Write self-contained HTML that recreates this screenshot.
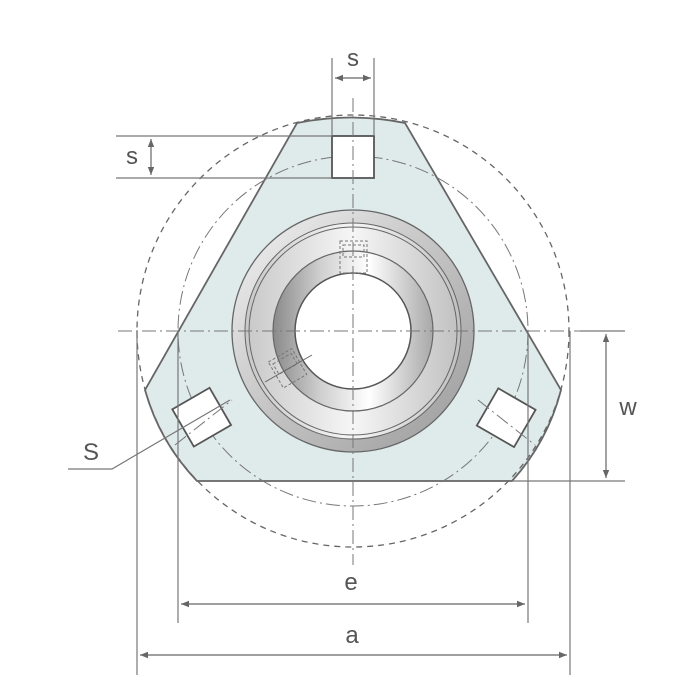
<!DOCTYPE html>
<html><head><meta charset="utf-8"><style>
html,body{margin:0;padding:0;background:#fff;}
svg{display:block;}
text{font-family:"Liberation Sans",sans-serif;fill:#555;font-size:24px;}
</style></head><body>
<svg width="700" height="700" viewBox="0 0 700 700" xmlns="http://www.w3.org/2000/svg">
<defs>
<linearGradient id="g1" x1="0" y1="0" x2="1" y2="1">
<stop offset="0" stop-color="#f4f4f4"/><stop offset="0.45" stop-color="#c8c8c8"/><stop offset="1" stop-color="#9a9a9a"/>
</linearGradient>
<linearGradient id="g2" x1="0" y1="0" x2="1" y2="0">
<stop offset="0" stop-color="#8a8a8a"/><stop offset="0.3" stop-color="#d0d0d0"/><stop offset="0.6" stop-color="#ffffff"/><stop offset="1" stop-color="#a8a8a8"/>
</linearGradient>
<linearGradient id="g3" x1="0" y1="0" x2="1" y2="0">
<stop offset="0" stop-color="#c8c8c8"/><stop offset="0.5" stop-color="#f6f6f6"/><stop offset="1" stop-color="#c0c0c0"/>
</linearGradient>
<marker id="ar" viewBox="0 0 10 10" refX="10" refY="5" markerWidth="10" markerHeight="8" orient="auto-start-reverse" markerUnits="userSpaceOnUse">
<path d="M0,1 L10,5 L0,9 z" fill="#666"/></marker>
</defs>
<!-- flange -->
<path d="M297,123 Q351,112 405,123 L561,390 A216,216 0 0 1 512,481 L197,481 A216,216 0 0 1 145,390 Z" fill="#dfeaea" stroke="#666" stroke-width="1.8"/>
<!-- circles -->
<circle cx="353" cy="331" r="216" fill="none" stroke="#666" stroke-width="1.3" stroke-dasharray="6,5"/>
<circle cx="353" cy="331" r="175" fill="none" stroke="#777" stroke-width="1" stroke-dasharray="14,4,2,4"/>
<!-- bearing -->
<circle cx="353" cy="331" r="121" fill="url(#g1)" stroke="#666" stroke-width="1.3"/>
<circle cx="353" cy="331" r="108" fill="url(#g3)" stroke="#666" stroke-width="1"/>
<circle cx="353" cy="331" r="104" fill="none" stroke="#666" stroke-width="1"/>
<circle cx="353" cy="331" r="80" fill="url(#g2)" stroke="#666" stroke-width="1.2"/>
<circle cx="353" cy="331" r="58" fill="#fff" stroke="#555" stroke-width="1.5"/>
<!-- dashed set screws -->
<g fill="none" stroke="#777" stroke-width="1" stroke-dasharray="3,2">
<rect x="340" y="241" width="27" height="32"/><rect x="343" y="245" width="21" height="12"/>
<g transform="rotate(-30 288 368)"><rect x="274" y="353" width="27" height="30"/><rect x="277" y="357" width="21" height="12"/></g>
</g>
<line x1="265" y1="382" x2="312" y2="355" stroke="#666" stroke-width="1"/>
<!-- holes -->
<g fill="#fff" stroke="#555" stroke-width="1.8">
<rect x="332" y="136" width="42" height="42"/>
<rect x="180" y="396" width="43" height="43" transform="rotate(-30 201 417)"/>
<rect x="485" y="396" width="43" height="43" transform="rotate(30 506 417)"/>
</g>
<!-- centerlines -->
<g stroke="#777" stroke-width="1" stroke-dasharray="14,4,2,4" fill="none">
<line x1="118" y1="331" x2="580" y2="331"/>
<line x1="353" y1="98" x2="353" y2="565"/>
<line x1="175" y1="445" x2="232" y2="400"/>
<line x1="478" y1="400" x2="535" y2="445"/>
</g>
<!-- dimension lines -->
<g stroke="#777" stroke-width="1.2" fill="none">
<line x1="332" y1="58" x2="332" y2="136"/><line x1="374" y1="58" x2="374" y2="136"/>
<line x1="116" y1="136" x2="332" y2="136"/><line x1="116" y1="178" x2="332" y2="178"/>
<line x1="580" y1="331" x2="625" y2="331"/><line x1="512" y1="481" x2="625" y2="481"/>
<line x1="178" y1="331" x2="178" y2="623"/><line x1="528" y1="331" x2="528" y2="623"/>
<line x1="137" y1="331" x2="137" y2="675"/><line x1="570" y1="331" x2="570" y2="675"/>
<polyline points="68,469 112,469 230,400"/>
</g>
<g stroke="#666" stroke-width="1.2" fill="none">
<line x1="335" y1="78" x2="371" y2="78" marker-start="url(#ar)" marker-end="url(#ar)"/>
<line x1="151" y1="139" x2="151" y2="175" marker-start="url(#ar)" marker-end="url(#ar)"/>
<line x1="606" y1="334" x2="606" y2="478" marker-start="url(#ar)" marker-end="url(#ar)"/>
<line x1="181" y1="604" x2="525" y2="604" marker-start="url(#ar)" marker-end="url(#ar)"/>
<line x1="140" y1="655" x2="567" y2="655" marker-start="url(#ar)" marker-end="url(#ar)"/>
</g>
<text x="353" y="66" text-anchor="middle">s</text>
<text x="132" y="164" text-anchor="middle">s</text>
<text x="628" y="415" text-anchor="middle">w</text>
<text x="351" y="590" text-anchor="middle">e</text>
<text x="352" y="643" text-anchor="middle">a</text>
<text x="91" y="460" text-anchor="middle">S</text>
</svg>
</body></html>
